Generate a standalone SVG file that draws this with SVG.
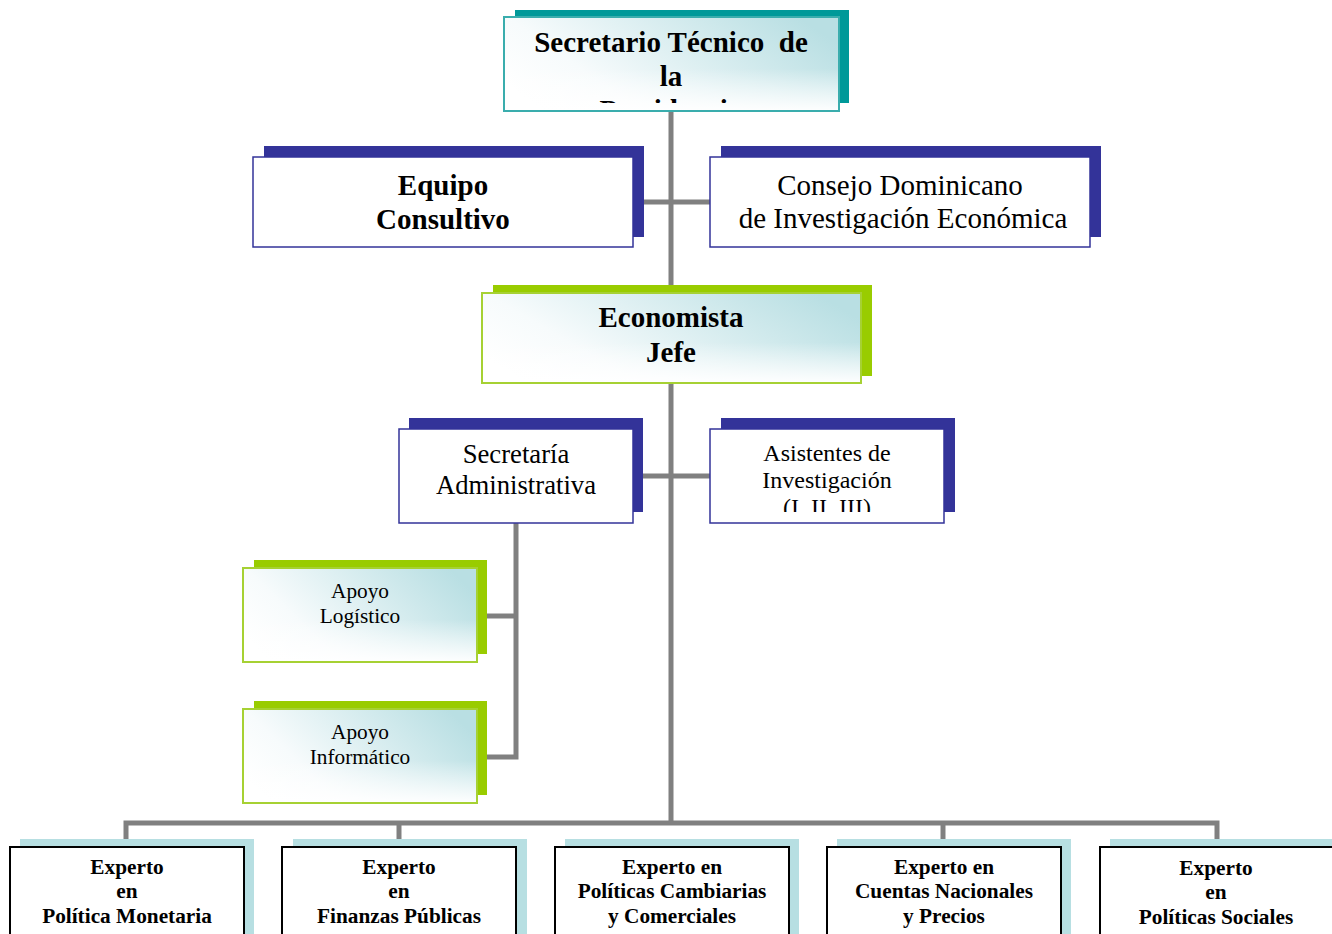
<svg xmlns="http://www.w3.org/2000/svg" width="1332" height="934" viewBox="0 0 1332 934">
<style>
  text { font-family: "Liberation Serif", "Times New Roman", serif; fill: #000; text-anchor: middle; }
  .b { font-weight: bold; }
  .conn { stroke: #808080; stroke-width: 5; fill: none; }
  .shTeal { fill: #009999; }
  .shBlue { fill: #333399; }
  .shGreen { fill: #99cc00; }
  .shLight { fill: #b7dfe2; }
  .frTeal { fill: url(#grad); stroke: #3aadad; stroke-width: 2; }
  .frGreen { fill: url(#grad); stroke: #a6d133; stroke-width: 2; }
  .fade { fill: url(#fade); stroke: none; }
  .frBlue { fill: #fff; stroke: #333399; stroke-width: 1.5; }
  .frBlack { fill: #fff; stroke: #000; stroke-width: 2; }
</style>
<defs>
  <linearGradient id="grad" x1="0" y1="0.7" x2="1" y2="0.3">
    <stop offset="0" stop-color="#ffffff"/>
    <stop offset="0.25" stop-color="#f7fbfc"/>
    <stop offset="1" stop-color="#b9dfe3"/>
  </linearGradient>
  <linearGradient id="fade" x1="0" y1="0" x2="0" y2="1">
    <stop offset="0" stop-color="#ffffff" stop-opacity="0"/>
    <stop offset="0.55" stop-color="#ffffff" stop-opacity="0"/>
    <stop offset="1" stop-color="#ffffff" stop-opacity="0.95"/>
  </linearGradient>
  <clipPath id="clipTop"><rect x="504" y="17" width="335" height="86"/></clipPath>
  <clipPath id="clipAsist"><rect x="710" y="429" width="234" height="83"/></clipPath>
</defs>
<rect width="1332" height="934" fill="#fff"/>

<g id="connectors">
  <line class="conn" x1="671" y1="105" x2="671" y2="825"/>
  <line class="conn" x1="640" y1="202" x2="712" y2="202"/>
  <line class="conn" x1="640" y1="476" x2="712" y2="476"/>
  <polyline class="conn" points="516,520 516,757 484,757"/>
  <line class="conn" x1="484" y1="616" x2="516" y2="616"/>
  <polyline class="conn" points="126,842 126,823 1217,823 1217,842"/>
  <line class="conn" x1="399" y1="823" x2="399" y2="842"/>
  <line class="conn" x1="943" y1="823" x2="943" y2="842"/>
</g>

<g id="secretario-tecnico">
  <rect class="shTeal" x="515" y="10" width="334" height="93"/>
  <rect class="frTeal" x="504" y="17" width="335" height="94"/>
  <rect class="fade" x="505" y="18" width="333" height="92"/>
  <g clip-path="url(#clipTop)">
    <text class="b" x="671" y="52" font-size="29" xml:space="preserve">Secretario Técnico  de</text>
    <text class="b" x="671" y="86" font-size="29">la</text>
    <text class="b" x="671" y="120" font-size="29">Presidencia</text>
  </g>
</g>

<g id="equipo-consultivo">
  <rect class="shBlue" x="264" y="146" width="380" height="91"/>
  <rect class="frBlue" x="253" y="157" width="380" height="90"/>
  <text class="b" x="443" y="195" font-size="29">Equipo</text>
  <text class="b" x="443" y="229" font-size="29">Consultivo</text>
</g>

<g id="consejo">
  <rect class="shBlue" x="721" y="146" width="380" height="91"/>
  <rect class="frBlue" x="710" y="157" width="380" height="90"/>
  <text x="900" y="195" font-size="29">Consejo Dominicano</text>
  <text x="903" y="228" font-size="29">de Investigación Económica</text>
</g>

<g id="economista-jefe">
  <rect class="shGreen" x="493" y="285" width="379" height="91"/>
  <rect class="frGreen" x="482" y="293" width="379" height="90"/>
  <rect class="fade" x="483" y="294" width="377" height="88"/>
  <text class="b" x="671" y="327" font-size="29">Economista</text>
  <text class="b" x="671" y="362" font-size="29">Jefe</text>
</g>

<g id="secretaria-administrativa">
  <rect class="shBlue" x="409" y="418" width="234" height="94"/>
  <rect class="frBlue" x="399" y="429" width="234" height="94"/>
  <text x="516" y="463" font-size="26.7">Secretaría</text>
  <text x="516" y="494" font-size="26.7">Administrativa</text>
</g>

<g id="asistentes">
  <rect class="shBlue" x="721" y="418" width="234" height="94"/>
  <rect class="frBlue" x="710" y="429" width="234" height="94"/>
  <g clip-path="url(#clipAsist)">
    <text x="827" y="461" font-size="24">Asistentes de</text>
    <text x="827" y="488" font-size="24">Investigación</text>
    <text x="827" y="515" font-size="24">(I, II, III)</text>
  </g>
</g>

<g id="apoyo-logistico">
  <rect class="shGreen" x="254" y="560" width="233" height="94"/>
  <rect class="frGreen" x="243" y="568" width="234" height="94"/>
  <rect class="fade" x="244" y="569" width="232" height="92"/>
  <text x="360" y="598" font-size="21.3">Apoyo</text>
  <text x="360" y="623" font-size="21.3">Logístico</text>
</g>

<g id="apoyo-informatico">
  <rect class="shGreen" x="254" y="701" width="233" height="94"/>
  <rect class="frGreen" x="243" y="709" width="234" height="94"/>
  <rect class="fade" x="244" y="710" width="232" height="92"/>
  <text x="360" y="739" font-size="21.3">Apoyo</text>
  <text x="360" y="764" font-size="21.3">Informático</text>
</g>

<g id="experto-monetaria">
  <rect class="shLight" x="20" y="839" width="234" height="100"/>
  <rect class="frBlack" x="10" y="847" width="234" height="100"/>
  <text class="b" x="127" y="874" font-size="21.3">Experto</text>
  <text class="b" x="127" y="898" font-size="21.3">en</text>
  <text class="b" x="127" y="923" font-size="21.3">Política Monetaria</text>
</g>

<g id="experto-finanzas">
  <rect class="shLight" x="293" y="839" width="234" height="100"/>
  <rect class="frBlack" x="282" y="847" width="234" height="100"/>
  <text class="b" x="399" y="874" font-size="21.3">Experto</text>
  <text class="b" x="399" y="898" font-size="21.3">en</text>
  <text class="b" x="399" y="923" font-size="21.3">Finanzas Públicas</text>
</g>

<g id="experto-cambiarias">
  <rect class="shLight" x="565" y="839" width="234" height="100"/>
  <rect class="frBlack" x="555" y="847" width="234" height="100"/>
  <text class="b" x="672" y="874" font-size="21.3">Experto en</text>
  <text class="b" x="672" y="898" font-size="21.3">Políticas Cambiarias</text>
  <text class="b" x="672" y="923" font-size="21.3">y Comerciales</text>
</g>

<g id="experto-cuentas">
  <rect class="shLight" x="837" y="839" width="234" height="100"/>
  <rect class="frBlack" x="827" y="847" width="234" height="100"/>
  <text class="b" x="944" y="874" font-size="21.3">Experto en</text>
  <text class="b" x="944" y="898" font-size="21.3">Cuentas Nacionales</text>
  <text class="b" x="944" y="923" font-size="21.3">y Precios</text>
</g>

<g id="experto-sociales">
  <rect class="shLight" x="1110" y="839" width="234" height="100"/>
  <rect class="frBlack" x="1100" y="847" width="234" height="100"/>
  <text class="b" x="1216" y="875" font-size="21.3">Experto</text>
  <text class="b" x="1216" y="899" font-size="21.3">en</text>
  <text class="b" x="1216" y="924" font-size="21.3">Políticas Sociales</text>
</g>
</svg>
